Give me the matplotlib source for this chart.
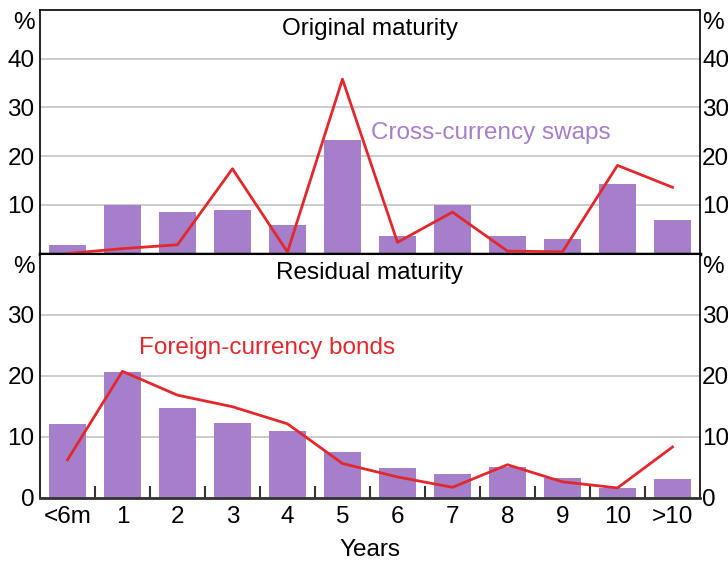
import matplotlib.pyplot as plt
import numpy as np

plt.rcParams['font.family'] = ['Liberation Sans', 'DejaVu Sans']
plt.rcParams['font.size'] = 17.5

## Data -------------------
categories = ["<6m", "1", "2", "3", "4", "5", "6", "7", "8", "9", "10", ">10"]

# Original maturity
orig_swaps = [1.8, 10.0, 8.6, 8.9, 5.8, 23.4, 3.5, 10.0, 3.5, 2.9, 14.3, 6.9]
orig_bonds = [0.0, 1.0, 1.8, 17.4, 0.3, 35.8, 2.3, 8.5, 0.5, 0.35, 18.1, 13.6]

# Residual maturity
resid_swaps = [12.0, 20.6, 14.7, 12.2, 10.9, 7.5, 4.8, 3.9, 5.0, 3.2, 1.6, 3.0]
resid_bonds = [6.2, 20.7, 16.8, 14.9, 12.1, 5.6, 3.4, 1.7, 5.4, 2.6, 1.6, 8.3]

purple = "#a57fc9"
red = "#e2282c"
grid_col = "#c4c4c4"
fs = 17.5

x = np.arange(len(categories))

fig = plt.figure(figsize=(7.28, 5.63), dpi=100)
ax_top = fig.add_axes([0.0549, 0.5497, 0.9066, 0.4325])
ax_bot = fig.add_axes([0.0549, 0.1160, 0.9066, 0.4337])


# Basic panel styling
def style_panel(ax, ylim, ticks, title, series):
    ax.bar(x, series[0], width=0.67, color=purple, zorder=2)
    ax.plot(x, series[1], color=red, lw=2, zorder=3)
    ax.set_xlim(-0.5, len(categories) - 0.5)
    ax.set_ylim(*ylim)
    ax.set_yticks(ticks)
    ax.yaxis.grid(True, color=grid_col, lw=1.2, zorder=0)
    ax.tick_params(axis="y", length=0, pad=4, labelsize=fs)
    for s in ["left", "right", "top"]:
        ax.spines[s].set_linewidth(1.2)

    # right-hand axis copy, labels tight to the spine
    axr = ax.twinx()
    axr.set_ylim(*ylim)
    axr.set_yticks(ticks)
    axr.tick_params(axis="y", length=0, pad=1.5, labelsize=fs)
    for s in axr.spines.values():
        s.set_visible(False)

    ax.text(0.5, 0.922, title, transform=ax.transAxes, ha="center",
            va="center", fontsize=fs)
    ax.text(-0.008, 0.945, "%", transform=ax.transAxes, ha="right",
            va="center", fontsize=fs)
    ax.text(1.003, 0.945, "%", transform=ax.transAxes, ha="left",
            va="center", fontsize=fs)


style_panel(ax_top, (0, 50), [10, 20, 30, 40], "Original maturity",
            (orig_swaps, orig_bonds))
ax_top.set_xticks([])
ax_top.spines["bottom"].set_linewidth(2.5)

style_panel(ax_bot, (0, 40), [0, 10, 20, 30], "Residual maturity",
            (resid_swaps, resid_bonds))
ax_bot.spines["top"].set_linewidth(1.5)
ax_bot.spines["bottom"].set_linewidth(2)
ax_bot.spines["bottom"].set_color("#333333")
ax_bot.set_xticks(x)
ax_bot.set_xticklabels(categories)
ax_bot.set_xticks(x[:-1] + 0.5, minor=True)
ax_bot.tick_params(axis="x", which="major", length=0, pad=6, labelsize=fs)
ax_bot.tick_params(axis="x", which="minor", direction="in", length=9,
                   width=1.5, color="#333333")
ax_bot.set_xlabel("Years", fontsize=fs, labelpad=8)

# Series labels
ax_top.text(5.52, 24.7, "Cross-currency swaps", color=purple,
            ha="left", va="center", fontsize=fs)
ax_bot.text(1.3, 24.5, "Foreign-currency bonds", color=red,
            ha="left", va="center", fontsize=fs)

plt.savefig("out.png", dpi=100)
